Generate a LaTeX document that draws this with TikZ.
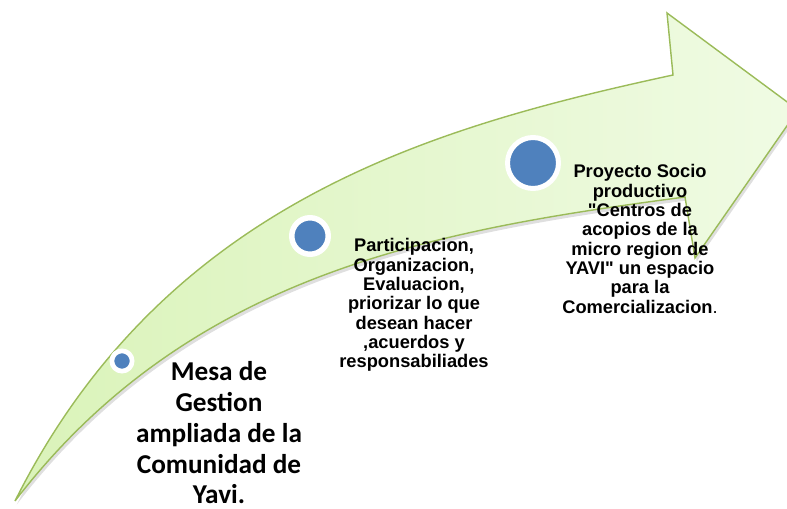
\documentclass[tikz,border=0pt]{standalone}
\usepackage{fontspec}
\setmainfont{Liberation Sans}[Ligatures = TeXOff]
\newfontfamily\calibri{Carlito}
\usepackage{tikz}
\usetikzlibrary{shadows}

\definecolor{dotblue}{HTML}{4F81BD}
\definecolor{arrowline}{HTML}{9BBB59}
\definecolor{arrowdark}{RGB}{218,243,185}
\definecolor{arrowlight}{RGB}{240,251,228}

\begin{document}
\begin{tikzpicture}[x = 0.02cm, y = -0.02cm,
  dot/.style = {circle, fill = dotblue, draw = white, inner sep = 0pt, drop shadow = {opacity = 0.2, shadow xshift = 0.4pt, shadow yshift = -0.6pt}},
  stage/.style = {align = center, inner sep = 0pt, font = \bfseries\fontsize{10.4}{11}\selectfont}]
\useasboundingbox (0,0) rectangle (787,509);
\coordinate (tail) at (15,501);
\coordinate (topnotch) at (673,75);
\coordinate (topbarb) at (667,13);
\coordinate (tip) at (798,110);
\coordinate (lowbarb) at (695,258);
\coordinate (lownotch) at (685,197);
\path[draw = arrowline, line width = 0.8pt, left color = arrowdark, right color = arrowlight, drop shadow = {opacity = 0.25, shadow xshift = 1pt, shadow yshift = -2pt}]
  (tail) .. controls (165,202) and (433,127) .. (topnotch) -- (topbarb) -- (tip) -- (lowbarb) -- (lownotch)
  .. controls (435,230) and (190,273) .. (tail) -- cycle;
\node[dot, minimum size = 0.406cm, line width = 0.094cm] (dot1) at (122,361) {};
\node[dot, minimum size = 0.73cm, line width = 0.11cm] (dot2) at (310,236) {};
\node[dot, minimum size = 1.02cm, line width = 0.1cm] (dot3) at (533,163) {};
\node[stage, font = \calibri\bfseries\fontsize{15.5}{17.5}\selectfont] (mesa) at (219,433) {Mesa de\\Gestion\\ampliada de la\\Comunidad de\\Yavi.};
\node[stage] (participa) at (414,305) {Participacion,\\Organizacion,\\Evaluacion,\\priorizar lo que\\desean hacer\\,acuerdos y\\responsabiliades};
\node[stage] (proyecto) at (640,239) {Proyecto Socio\\productivo\\"Centros de\\acopios de la\\micro region de\\YAVI" un espacio\\para la\\Comercializacion{\mdseries .}};
\end{tikzpicture}
\end{document}
